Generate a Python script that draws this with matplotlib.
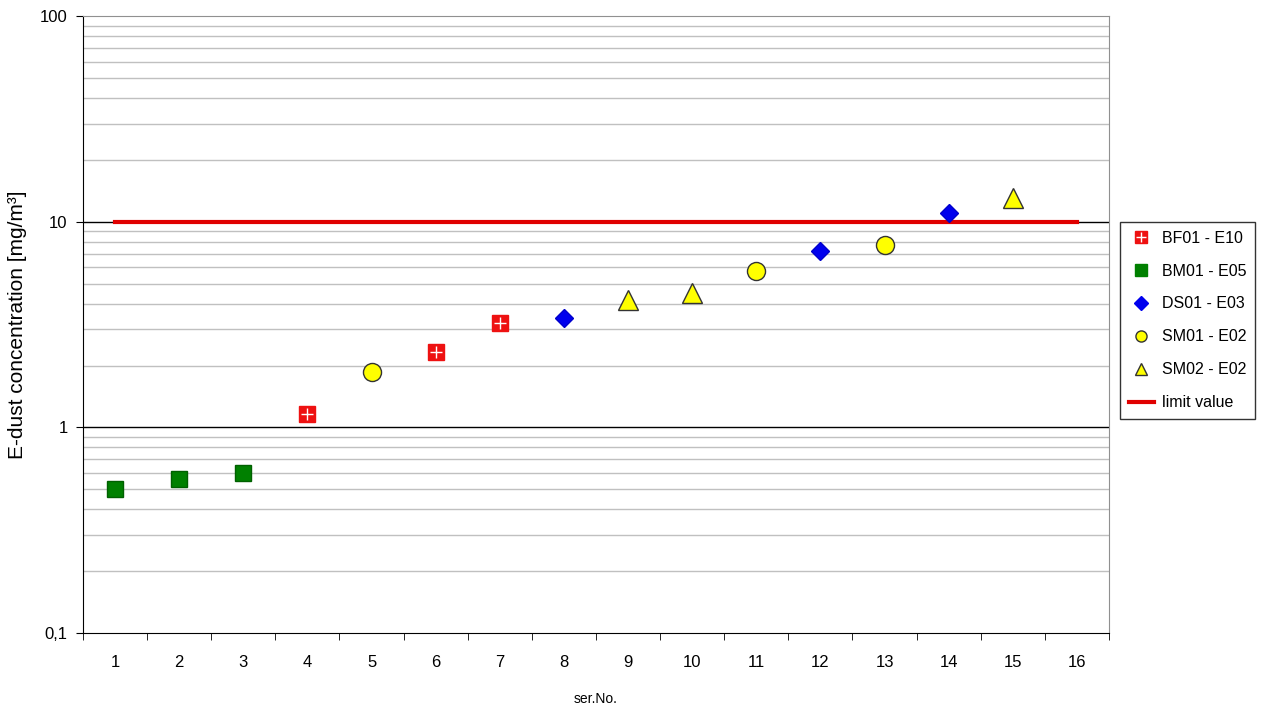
import matplotlib.pyplot as plt
import matplotlib.lines as mlines
import numpy as np

ser_no = list(range(1, 17))

bf01_x = [4, 6, 7]
bf01_y = [1.16, 2.32, 3.21]
bm01_x = [1, 2, 3]
bm01_y = [0.50, 0.56, 0.60]
ds01_x = [8, 12, 14]
ds01_y = [3.40, 7.2, 11.1]
sm01_x = [5, 11, 13]
sm01_y = [1.87, 5.75, 7.7]
sm02_x = [9, 10, 15]
sm02_y = [4.15, 4.50, 13.0]
limit_x = [1, 16]
limit_y = [10, 10]

plt.rcParams['font.family'] = ['Liberation Sans', 'DejaVu Sans']

fig = plt.figure(figsize=(12.71, 7.09), dpi=100)
ax = fig.add_axes([0.0653, 0.1072, 0.8072, 0.8698])

ax.set_yscale('log')
ax.set_ylim(0.1, 100)
ax.set_xlim(0.5, 16.5)

# grid: minor gray, 1 and 10 black
for dec in [0.1, 1, 10]:
    for m in range(2, 10):
        ax.axhline(dec * m, color='#c0c0c0', lw=1, zorder=1)
ax.axhline(1, color='black', lw=1, zorder=1)
ax.axhline(10, color='black', lw=1, zorder=1)

ax.plot(limit_x, limit_y, color='#e00000', lw=3, zorder=2)

ax.plot(bf01_x, bf01_y, 's', ms=12, color='#ee1111', mec='#ee1111', zorder=3)
ax.plot(bf01_x, bf01_y, '+', ms=9, mew=1, color='white', zorder=4)
ax.plot(bm01_x, bm01_y, 's', ms=12, color='#008000', mec='#006000', zorder=3)
ax.plot(ds01_x, ds01_y, 'D', ms=9.5, color='#0000ee', mec='#0000cc', zorder=3)
ax.plot(sm01_x, sm01_y, 'o', ms=13, color='#ffff00', mec='#333333', mew=1, zorder=3)
ax.plot(sm02_x, sm02_y, '^', ms=14, color='#ffff00', mec='#333333', mew=1, zorder=3)

# legend proxies
p_bf = (mlines.Line2D([], [], ls='', marker='s', ms=9, color='#ee1111'),
        mlines.Line2D([], [], ls='', marker='+', ms=7, mew=1, color='white'))
p_bm = mlines.Line2D([], [], ls='', marker='s', ms=8, color='#008000')
p_ds = mlines.Line2D([], [], ls='', marker='D', ms=7, color='#0000ee')
p_sm1 = mlines.Line2D([], [], ls='', marker='o', ms=8, color='#ffff00', mec='#333333')
p_sm2 = mlines.Line2D([], [], ls='', marker='^', ms=9, color='#ffff00', mec='#333333')
p_lim = mlines.Line2D([], [], color='#e00000', lw=3)

leg = fig.legend([p_bf, p_bm, p_ds, p_sm1, p_sm2, p_lim],
                 ['BF01 - E10', 'BM01 - E05', 'DS01 - E03', 'SM01 - E02', 'SM02 - E02', 'limit value'],
                 loc='upper left', bbox_to_anchor=(0.881, 0.687), borderaxespad=0,
                 fontsize=11.5, frameon=True, fancybox=False, edgecolor='black',
                 handlelength=1.6, labelspacing=1.12, borderpad=0.55, handletextpad=0.5)
leg.get_frame().set_linewidth(1)

# axes styling
ax.spines['left'].set_color('black')
ax.spines['bottom'].set_color('black')
ax.spines['top'].set_color('#909090')
ax.spines['right'].set_color('#909090')

ax.set_yticks([0.1, 1, 10, 100])
ax.set_yticklabels(['0,1', '1', '10', '100'])
ax.yaxis.set_minor_locator(plt.NullLocator())
ax.tick_params(axis='y', which='major', length=5, direction='out', labelsize=12, colors='black', pad=6)

ax.set_xticks(ser_no)
ax.set_xticklabels([str(s) for s in ser_no])
ax.tick_params(axis='x', which='major', length=0, labelsize=12, pad=16)
ax.set_xticks(np.arange(0.5, 17, 1), minor=True)
ax.tick_params(axis='x', which='minor', length=5, direction='out')

ax.set_ylabel('E-dust concentration [mg/m³]', fontsize=15, labelpad=9)
ax.set_xlabel('ser.No.', fontsize=10, labelpad=16)

fig.savefig('out.png', dpi=100)
